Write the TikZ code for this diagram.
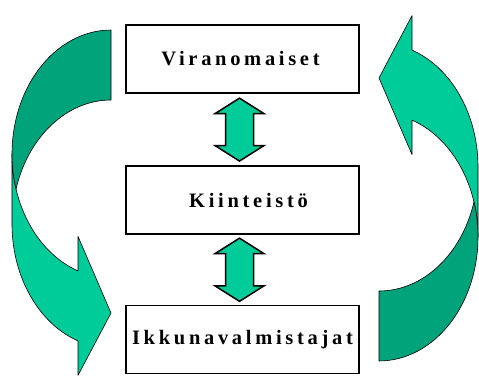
\documentclass[tikz,border=0pt]{standalone}
\usepackage{fontspec}
\setmainfont{Liberation Serif}
\newfontfamily\labelfont[LetterSpace=18]{Liberation Serif}
\usetikzlibrary{calc}

\definecolor{arrowlight}{RGB}{0,204,153}
\definecolor{arrowdark}{RGB}{0,163,122}

\tikzset{
  box/.style={draw=black, line width=1.3pt, fill=white,
    minimum width=233pt, minimum height=68pt, inner sep=0pt,
    font=\labelfont\bfseries\fontsize{20.5pt}{24pt}\selectfont},
  bandfront/.style={fill=arrowlight, draw=black, line width=0.6pt, line join=round},
  bandback/.style={fill=arrowdark, draw=black, line width=0.6pt, line join=round},
  updown/.style={fill=arrowlight, draw=black, line width=1.5pt, line join=miter},
  % ribbon arrow: tail at the top right, head pointing right at the bottom
  pics/bentarrow/.style={code={
    \path[bandfront] (12,222)
      arc[start angle=180, end angle=250.53, x radius=99pt, y radius=124pt]
      -- (78,139.6) -- (111,63) -- (78,0.6) -- (78,35.1)
      arc[start angle=250.53, end angle=180, x radius=99pt, y radius=124pt]
      -- cycle;
    \path[bandback] (111,276)
      arc[start angle=90, end angle=163.61, x radius=99pt, y radius=124pt]
      arc[start angle=196.39, end angle=90, x radius=99pt, y radius=124pt]
      -- cycle;
  }}
}

% block double arrow between two tips on the same vertical
\newcommand\blockupdown[2]{%
  \path[updown] (#1) -- ($(#1)+(-24.5,-15.5)$) -- ($(#1)+(-14,-15.5)$)
    -- ($(#2)+(-14,15.5)$) -- ($(#2)+(-24.5,15.5)$) -- (#2)
    -- ($(#2)+(24.5,15.5)$) -- ($(#2)+(14,15.5)$)
    -- ($(#1)+(14,-15.5)$) -- ($(#1)+(24.5,-15.5)$) -- cycle;}

\begin{document}
\begin{tikzpicture}[x=1pt, y=1pt]
  \useasboundingbox (0,0) rectangle (479,376);

  % curved arrows on both sides
  \pic at (0,0) {bentarrow};
  \pic[rotate=180] at (490,361) {bentarrow};

  % the three boxes
  \node[box] (vir) at (242.5,317) {\hspace*{-4pt}Viranomaiset};
  \node[box] (kii) at (242.5,176) {\hspace*{12pt}Kiinteistö};
  \node[box] (ikk) at (242.5,36.5) {Ikkunavalmistajat};

  % links between the boxes
  \coordinate (a1t) at ($(vir.south)+(-3,-4.5)$);
  \coordinate (a1b) at ($(kii.north)+(-3,4.3)$);
  \coordinate (a2t) at ($(kii.south)+(-3,-3.5)$);
  \coordinate (a2b) at ($(ikk.north)+(-3,3.5)$);
  \blockupdown{a1t}{a1b}
  \blockupdown{a2t}{a2b}
\end{tikzpicture}
\end{document}
